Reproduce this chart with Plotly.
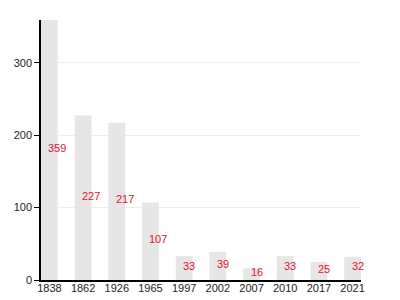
import plotly.graph_objects as go

years = ["1838", "1862", "1926", "1965", "1997", "2002", "2007", "2010", "2017", "2021"]
values = [359, 227, 217, 107, 33, 39, 16, 33, 25, 32]
y_ticks = [0, 100, 200, 300]

fig = go.Figure()
fig.add_trace(go.Bar(
    x=years, y=values,
    marker=dict(color="#e6e6e6", line=dict(width=0)),
    hoverinfo="skip",
))

annotations = [
    dict(x=i, y=v / 2, xref="x", yref="y", text=str(v), showarrow=False,
         xanchor="left", yanchor="middle", xshift=-3, yshift=2,
         font=dict(family="Liberation Sans, Arial, sans-serif", size=11, color="#e8102a"))
    for i, v in enumerate(values)
]

fig.update_layout(
    width=400, height=300,
    margin=dict(l=41, r=39, t=20, b=20, autoexpand=False),
    paper_bgcolor="white", plot_bgcolor="white",
    bargap=0.5,
    showlegend=False,
    annotations=annotations,
    font=dict(family="Liberation Sans, Arial, sans-serif", size=11, color="#222"),
    xaxis=dict(
        type="category", range=[-0.25, 9.25], automargin=False,
        showline=True, linecolor="black", linewidth=1.5,
        ticks="", showgrid=False, tickfont=dict(size=11, color="#222"),
        ticklabelstandoff=-3,
        fixedrange=True,
    ),
    yaxis=dict(
        range=[0, 359], tickvals=y_ticks, automargin=False,
        showline=True, linecolor="black", linewidth=1.5,
        ticks="outside", ticklen=5, tickcolor="black",
        showgrid=True, gridcolor="#eeeeee", gridwidth=1,
        zeroline=False, tickfont=dict(size=11, color="#222"),
        fixedrange=True,
    ),
)

fig.write_html("out.html")
